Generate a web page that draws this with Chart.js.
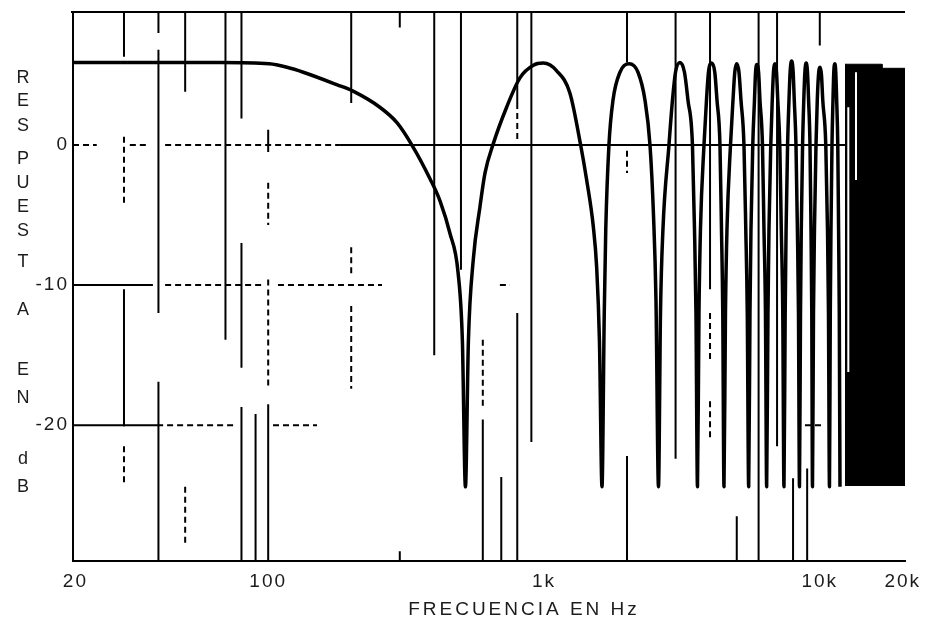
<!DOCTYPE html>
<html>
<head>
<meta charset="utf-8">
<script src="https://cdn.jsdelivr.net/npm/chart.js@4.4.0/dist/chart.umd.min.js"></script>
<style>
  html, body { margin: 0; padding: 0; background: #fff; }
  canvas { display: block; }
</style>
</head>
<body>
<canvas id="chart" width="928" height="619"></canvas>
<script>
// Respuesta en frecuencia (Hz / dB), leída lóbulo a lóbulo
const curveHz = [
  19.6, 67, 101, 117, 134, 178, 203, 254, 293, 332, 386, 420, 456, 488, 506, 519, 532,
  554, 586, 611, 655, 732, 818, 915, 994, 1112, 1242, 1358, 1428, 1509, 1552, 1589, 1623,
  1654, 1675, 1720, 1779, 1886, 2038, 2192, 2324, 2423, 2495, 2547, 2601,
  2645, 2700, 2839, 2923, 2998, 3112, 3231, 3327, 3454, 3513, 3557, 3602,
  3647, 3693, 3803, 3883, 3948, 4055, 4162, 4239, 4346, 4401, 4449, 4494,
  4550, 4608, 4745, 4845, 4918, 4997, 5093, 5179, 5310, 5391, 5459, 5523,
  5583, 5630, 5715, 5797, 5850, 5919, 5999, 6069, 6197, 6275, 6354, 6418,
  6488, 6543, 6642, 6725, 6793, 6879, 6966, 7042, 7161, 7251, 7342, 7416,
  7491, 7548, 7643, 7733, 7811, 7909, 8002, 8082, 8198, 8295, 8371, 8441,
  8512, 8569, 8662, 8750, 8830, 8927, 9024, 9108, 9215, 9292, 9354, 9409,
  9488, 9567, 9688, 9793, 9892, 10017, 10143, 10253, 10514, 10664, 10753, 10843,
  10916, 10980, 11072, 11165, 11240, 11334, 11429, 11515, 11621, 11699, 11768, 11837
];
const curveDb = [
  5.9, 5.9, 5.8, 5.55, 5.2, 4.3, 3.85, 2.7, 1.6, 0, -2.4, -4.0, -6.3, -9.1, -14, -24.4, -14,
  -8.2, -4.4, -2.0, 0.1, 2.7, 4.8, 5.7, 5.85, 5.3, 3.7, 0, -2.5, -5.8, -8.7, -14, -24.4,
  -12, -6, 0, 3.2, 5.2, 5.8, 5.2, 3.2, 0, -5, -11, -24.4,
  -12, -6, 0, 3.2, 5.2, 5.9, 5.2, 3.2, 0, -6, -12, -24.4,
  -12, -6, 0, 3.2, 5.2, 5.85, 5.2, 3.2, 0, -6, -12, -24.4,
  -12, -6, 0, 3.2, 5.2, 5.8, 5.2, 3.2, 0, -6, -12, -24.4,
  -12, -6, 0, 3.2, 5.2, 5.75, 5.2, 3.2, 0, -6, -12, -24.4,
  -12, -6, 0, 3.2, 5.2, 5.8, 5.2, 3.2, 0, -6, -12, -24.4,
  -12, -6, 0, 3.2, 5.3, 6.0, 5.3, 3.2, 0, -6, -12, -24.4,
  -12, -6, 0, 3.2, 5.2, 5.85, 5.2, 3.2, 0, -6, -12, -24.4,
  -12, -6, 0, 3.2, 5.0, 5.55, 5.0, 3.2, 0, -6, -12, -24.4,
  -12, -6, 0, 3.2, 5.2, 5.8, 5.2, 3.2, 0, -6, -12, -24.4
];

// Por encima de ~12 kHz los lóbulos se funden en una mancha negra
const blockHz = [12340, 16810, 16810, 20370];
const blockDb = [5.77, 5.77, 5.48, 5.48];
const blockFloorDb = -24.35;

// Rayas blancas dentro de la mancha
const gapHz = [12690, 13530];
const gapTopDb = [2.7, 5.2];
const gapBottomDb = [-16.2, -2.5];

// Rejilla vertical: [Hz, dB arriba, dB abajo]
const vGridSolid = [
  [30, 9.5, 6.3], [30, -10.3, -20.1],
  [40, 9.5, 8.0], [40, 6.8, -12.0], [40, -16.9, -29.7],
  [50, 9.5, 3.8],
  [70, 9.5, -13.9],
  [80, 9.5, 1.9], [80, -7.0, -15.9], [80, -18.7, -29.7],
  [90, -19.2, -29.7],
  [100, 1.1, -0.5], [100, -18.5, -29.7],
  [200, 9.5, 3.0],
  [300, 9.5, 8.4], [300, -29.0, -29.7],
  [400, 9.5, -15.0],
  [500, 9.5, -8.9],
  [600, -19.6, -29.7],
  [700, -23.7, -29.7],
  [800, 9.5, 3.0], [800, -12.0, -29.7],
  [900, 9.5, -21.2],
  [2000, 9.5, 5.9], [2000, -22.2, -29.7],
  [3000, 9.5, -22.4],
  [4000, 9.5, -10.3],
  [5000, -26.5, -29.7],
  [6000, 9.5, -29.7],
  [7000, 9.5, -21.5],
  [8000, -23.8, -29.7],
  [9000, -23.1, -29.7],
  [10000, 9.5, 7.1]
];
const vGridDashed = [
  [30, 0.6, -4.4], [30, -21.5, -24.1],
  [50, -24.4, -28.5],
  [100, -2.7, -5.7], [100, -9.6, -17.4],
  [200, -7.3, -9.4], [200, -11.5, -17.4],
  [600, -13.9, -18.7],
  [800, 3.0, 0.4],
  [2000, -0.4, -2.0],
  [4000, -12.0, -15.3], [4000, -18.3, -21.0]
];
// Rejilla horizontal: [dB, Hz desde, Hz hasta]
const hGridSolid = [
  [0, 182, 13600],
  [-10, 19.6, 38.2],
  [-20, 19.6, 41.6]
];
const hGridDashed = [
  [0, 19.6, 23.9], [0, 31.5, 36.4], [0, 42.3, 182],
  [-10, 42.3, 95.8], [-10, 108.5, 258.6], [-10, 692, 753],
  [-20, 43.0, 77.1], [-20, 104.1, 150.3], [-20, 8838, 10270]
];

const xTickHz = [20, 100, 1000, 10000, 20000];
const xTickText = ['20', '100', '1k', '10k', '20k'];
const yTickDb = [0, -10, -20];

const TEXT_FONT = '"Liberation Sans", Arial, sans-serif';
const INK = '#1c1c1c';

// tramos sueltos en un solo dataset, cortados con null
function segmentPoints(vertical, horizontal) {
  const pts = [];
  vertical.forEach(([hz, top, bottom]) => {
    pts.push({x: hz, y: top}, {x: hz, y: bottom}, {x: hz, y: null});
  });
  horizontal.forEach(([db, from, to]) => {
    pts.push({x: from, y: db}, {x: to, y: db}, {x: to, y: null});
  });
  return pts;
}

const gapPoints = [];
gapHz.forEach((hz, i) => {
  gapPoints.push({x: hz, y: gapTopDb[i]}, {x: hz, y: gapBottomDb[i]}, {x: hz, y: null});
});

// Marco superior y rótulos de los ejes
const rotulos = {
  id: 'rotulos',
  beforeDraw(chart) {
    chart.ctx.letterSpacing = '2px';
  },
  afterDraw(chart) {
    const {ctx, chartArea} = chart;
    ctx.save();
    ctx.strokeStyle = '#000';
    ctx.lineWidth = 2;
    ctx.beginPath();
    ctx.moveTo(chartArea.left - 2, chartArea.top);
    ctx.lineTo(chartArea.right, chartArea.top);
    ctx.stroke();

    ctx.fillStyle = INK;
    ctx.textAlign = 'center';
    ctx.textBaseline = 'middle';
    ctx.letterSpacing = '0px';
    ctx.font = '18px ' + TEXT_FONT;
    const letras = 'RESPUESTAENdB';
    const posY = [78, 101, 126, 159, 183, 207, 231, 262, 310, 370, 398, 459, 487];
    for (let i = 0; i < letras.length; i++) {
      ctx.fillText(letras[i], 23, posY[i]);
    }

    ctx.letterSpacing = '3px';
    ctx.font = '19px ' + TEXT_FONT;
    ctx.fillText('FRECUENCIA EN Hz', 524, 610);
    ctx.restore();
  }
};

const lineBase = {
  type: 'line',
  pointRadius: 0,
  borderColor: '#000',
  borderWidth: 2,
  fill: false,
  tension: 0,
  spanGaps: false
};

const chart = new Chart(document.getElementById('chart'), {
  data: {
    datasets: [
      { ...lineBase, data: gapPoints, borderColor: '#fff', borderWidth: 2 },
      {
        ...lineBase,
        data: curveHz.map((hz, i) => ({x: hz, y: curveDb[i]})),
        borderWidth: 3.5,
        cubicInterpolationMode: 'monotone',
        borderJoinStyle: 'round'
      },
      {
        ...lineBase,
        data: blockHz.map((hz, i) => ({x: hz, y: blockDb[i]})),
        borderWidth: 1,
        backgroundColor: '#000',
        fill: {value: blockFloorDb}
      },
      { ...lineBase, data: segmentPoints(vGridSolid, hGridSolid) },
      { ...lineBase, data: segmentPoints(vGridDashed, hGridDashed), borderDash: [6, 4] }
    ]
  },
  options: {
    responsive: false,
    animation: false,
    events: [],
    layout: { padding: { top: 12, right: 23, bottom: 0, left: 0 } },
    plugins: {
      legend: { display: false },
      tooltip: { enabled: false }
    },
    scales: {
      x: {
        type: 'logarithmic',
        min: 19.6,
        max: 20370,
        grid: { display: false, drawTicks: false },
        border: { display: true, color: '#000', width: 2 },
        afterBuildTicks: (scale) => {
          scale.ticks = xTickHz.map(v => ({value: v}));
        },
        afterFit: (scale) => {
          scale.height = 58;
          scale.paddingLeft = 0;
          scale.paddingRight = 0;
        },
        ticks: {
          autoSkip: false,
          maxRotation: 0,
          padding: 9,
          color: INK,
          font: { family: TEXT_FONT, size: 19 },
          callback: (value, index) => xTickText[index]
        }
      },
      y: {
        type: 'linear',
        min: -29.7,
        max: 9.5,
        grid: { display: false, drawTicks: false },
        border: { display: true, color: '#000', width: 2 },
        afterBuildTicks: (scale) => {
          scale.ticks = yTickDb.map(v => ({value: v}));
        },
        afterFit: (scale) => {
          scale.width = 73;
          scale.paddingTop = 0;
          scale.paddingBottom = 0;
        },
        ticks: {
          padding: 4,
          color: INK,
          font: { family: TEXT_FONT, size: 19 },
          callback: (value) => String(value)
        }
      }
    }
  },
  plugins: [rotulos]
});
</script>
</body>
</html>
